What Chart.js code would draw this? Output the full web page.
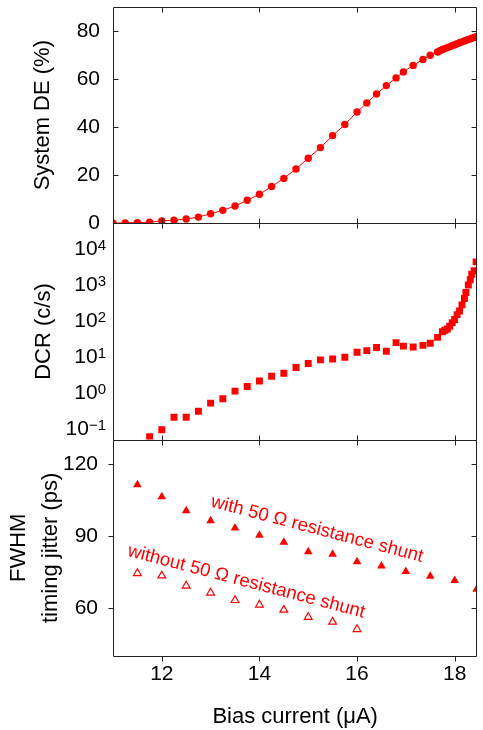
<!DOCTYPE html>
<html lang="en">
<head>
    <meta charset="utf-8"/>
    <script src="https://cdn.jsdelivr.net/npm/chart.js@4.4.0/dist/chart.umd.min.js"></script>
    <style>
        body { margin: 0; background: #fff; overflow: hidden; }
        canvas { display: block; }
    </style>
</head>
<body>
    <canvas id="chart" width="483" height="730"></canvas>
    <script>
        // system detection efficiency (%) vs bias current (uA)
        const biasDE = [11.0, 11.25, 11.5, 11.75, 12.0, 12.25, 12.5, 12.75, 13.0, 13.25, 13.5, 13.75, 14.0, 14.25,
            14.5, 14.75, 15.0, 15.25, 15.5, 15.75, 16.0, 16.2, 16.4, 16.6, 16.8, 16.95, 17.15, 17.35, 17.5, 17.65,
            17.7, 17.75, 17.8, 17.85, 17.9, 17.95, 18.0, 18.05, 18.1, 18.15, 18.2, 18.25, 18.3, 18.35, 18.4, 18.45];
        const systemDE = [0.1, 0.2, 0.3, 0.5, 1.0, 1.3, 1.8, 2.6, 4.0, 5.4, 7.2, 9.6, 12.1, 15.3,
            18.7, 22.6, 27.1, 31.5, 36.5, 41.1, 46.3, 50.1, 53.8, 57.3, 60.5, 63.0, 65.7, 68.2, 69.9, 71.3,
            71.8, 72.3, 72.7, 73.1, 73.5, 73.9, 74.3, 74.7, 75.1, 75.5, 75.9, 76.3, 76.6, 77.0, 77.3, 77.7];

        // dark count rate (c/s)
        const biasDCR = [11.75, 12.0, 12.25, 12.5, 12.75, 13.0, 13.25, 13.5, 13.75, 14.0, 14.25, 14.5, 14.75, 15.0,
            15.25, 15.5, 15.75, 16.0, 16.2, 16.4, 16.6, 16.8, 16.95, 17.15, 17.35, 17.5, 17.65, 17.75, 17.8, 17.85,
            17.9, 17.95, 18.0, 18.05, 18.1, 18.15, 18.2, 18.23, 18.28, 18.32, 18.35, 18.4, 18.44];
        const darkCounts = [0.06, 0.094, 0.21, 0.21, 0.31, 0.52, 0.69, 1.12, 1.5, 2.15, 2.9, 3.5, 5.1, 6.6,
            8.3, 8.8, 9.8, 13.5, 15, 18.3, 14.4, 25, 20, 19, 21, 24, 35, 50, 55, 60,
            72, 90, 110, 150, 190, 280, 420, 620, 1000, 1400, 2000, 2500, 4400];

        // FWHM timing jitter (ps)
        const biasShunt = [11.5, 12.0, 12.5, 13.0, 13.5, 14.0, 14.5, 15.0, 15.5, 16.0, 16.5, 17.0, 17.5, 18.0, 18.45];
        const jitterShunt = [111.2, 106.3, 100.4, 96.3, 93.3, 90.2, 87.3, 83.4, 82.3, 79.2, 77.4, 75.2, 73.2, 71.4, 67.8];
        const biasNoShunt = [11.5, 12.0, 12.5, 13.0, 13.5, 14.0, 14.5, 15.0, 15.5, 16.0];
        const jitterNoShunt = [74.4, 73.4, 69.2, 66.3, 63.2, 61.3, 59.2, 56.2, 54.2, 51.1];

        // tick labels
        const xTickLabels = [12, 14, 16, 18];
        const deTickLabels = [0, 20, 40, 60, 80];
        const dcrDecades = [-1, 0, 1, 2, 3, 4];
        const jitterTickLabels = [60, 90, 120];

        const RED = "#ff0000";
        const FONT = '"Liberation Sans", Arial, sans-serif';

        function pairs(xs, ys) {
            return xs.map((x, i) => ({x: x, y: ys[i]}));
        }

        function fixWidth(scale) {
            scale.width = 113;
            scale.paddingTop = 0;
            scale.paddingBottom = 0;
        }

        // clip every dataset to its own panel
        const panelClip = {
            id: "panelClip",
            beforeDatasetDraw(chart, args) {
                const ys = args.meta.yScale, a = chart.chartArea;
                chart.ctx.save();
                chart.ctx.beginPath();
                chart.ctx.rect(a.left, ys.top, a.right - a.left, ys.bottom - ys.top);
                chart.ctx.clip();
            },
            afterDatasetDraw(chart) {
                chart.ctx.restore();
            }
        };

        // box around each panel with tick marks
        const frame = {
            id: "frame",
            afterDraw(chart, args, opts) {
                const ctx = chart.ctx, xs = chart.scales.x;
                const L = Math.round(chart.chartArea.left) + 0.5, R = Math.round(chart.chartArea.right) - 0.5;
                ctx.save();
                ctx.strokeStyle = "#222";
                ctx.lineWidth = 1;
                opts.panels.forEach(p => {
                    const ys = chart.scales[p.id];
                    const T = Math.round(ys.top) + 0.5, B = Math.round(ys.bottom) + 0.5;
                    ctx.beginPath();
                    ctx.moveTo(L, T); ctx.lineTo(R, T); ctx.lineTo(R, B); ctx.lineTo(L, B); ctx.closePath();
                    ys.ticks.forEach(t => {
                        const y = Math.round(ys.getPixelForValue(t.value)) + 0.5;
                        const len = t.major ? 5 : 3;
                        if (p.left === "out") { ctx.moveTo(L - len, y); ctx.lineTo(L, y); }
                        else { ctx.moveTo(L, y); ctx.lineTo(L + len, y); }
                        ctx.moveTo(R, y); ctx.lineTo(R - len, y);
                    });
                    xs.ticks.forEach(t => {
                        const x = Math.round(xs.getPixelForValue(t.value)) + 0.5;
                        const len = xTickLabels.includes(t.value) ? 5 : 3;
                        ctx.moveTo(x, T); ctx.lineTo(x, T + len);
                        if (p.bottom === "out") { ctx.moveTo(x, B); ctx.lineTo(x, B + len); }
                        else { ctx.moveTo(x, B); ctx.lineTo(x, B - len); }
                    });
                    ctx.stroke();
                });
                ctx.restore();
            }
        };

        // 10^n labels of the log axis
        const powerLabels = {
            id: "powerLabels",
            afterDraw(chart) {
                const ctx = chart.ctx, ys = chart.scales.yDCR;
                const right = chart.chartArea.left - 7;
                ctx.save();
                ctx.fillStyle = "#000";
                dcrDecades.forEach(d => {
                    const y = ys.getPixelForValue(Math.pow(10, d));
                    const exp = String(d).replace("-", "\u2212");
                    ctx.font = "15px " + FONT;
                    const ew = ctx.measureText(exp).width;
                    ctx.textAlign = "left";
                    ctx.textBaseline = "alphabetic";
                    ctx.fillText(exp, right - ew, y + 1);
                    ctx.font = "21px " + FONT;
                    ctx.textAlign = "right";
                    ctx.textBaseline = "middle";
                    ctx.fillText("10", right - ew, y);
                });
                ctx.restore();
            }
        };

        // rotated labels in the jitter panel
        const notes = {
            id: "notes",
            afterDatasetsDraw(chart, args, opts) {
                const ctx = chart.ctx, xs = chart.scales.x, ys = chart.scales.yJit;
                ctx.save();
                ctx.fillStyle = RED;
                ctx.font = "18.6px " + FONT;
                ctx.textAlign = "center";
                ctx.textBaseline = "middle";
                opts.items.forEach(n => {
                    ctx.save();
                    ctx.translate(xs.getPixelForValue(n.x), ys.getPixelForValue(n.y));
                    ctx.rotate(n.angle * Math.PI / 180);
                    ctx.fillText(n.text, 0, 0);
                    ctx.restore();
                });
                ctx.restore();
            }
        };

        const tickFont = {family: FONT, size: 21};
        const titleFont = {family: FONT, size: 22};

        new Chart(document.getElementById("chart"), {
            type: "scatter",
            data: {
                datasets: [
                    {
                        label: "System DE",
                        data: pairs(biasDE, systemDE),
                        yAxisID: "yDE",
                        showLine: true,
                        borderColor: RED,
                        borderWidth: 1,
                        backgroundColor: RED,
                        pointRadius: 3.7,
                        pointBorderWidth: 0
                    },
                    {
                        label: "DCR",
                        data: pairs(biasDCR, darkCounts),
                        yAxisID: "yDCR",
                        pointStyle: "rect",
                        backgroundColor: RED,
                        pointRadius: 4.9,
                        pointBorderWidth: 0
                    },
                    {
                        label: "with 50 \u03a9 shunt",
                        data: pairs(biasShunt, jitterShunt),
                        yAxisID: "yJit",
                        pointStyle: "triangle",
                        backgroundColor: RED,
                        pointRadius: 5,
                        pointBorderWidth: 0
                    },
                    {
                        label: "without 50 \u03a9 shunt",
                        data: pairs(biasNoShunt, jitterNoShunt),
                        yAxisID: "yJit",
                        pointStyle: "triangle",
                        backgroundColor: "rgba(0,0,0,0)",
                        borderColor: RED,
                        pointRadius: 4.5,
                        pointBorderWidth: 1.2
                    }
                ]
            },
            options: {
                responsive: false,
                animation: false,
                layout: {padding: {top: 7, left: 0, right: 0, bottom: 0}},
                plugins: {
                    legend: {display: false},
                    tooltip: {enabled: false},
                    frame: {
                        panels: [
                            {id: "yDE", left: "in", bottom: "in"},
                            {id: "yDCR", left: "out", bottom: "in"},
                            {id: "yJit", left: "out", bottom: "out"}
                        ]
                    },
                    notes: {
                        items: [
                            {text: "with 50 \u03a9 resistance shunt", x: 15.18, y: 92.7, angle: 14.7},
                            {text: "without 50 \u03a9 resistance shunt", x: 13.73, y: 70.9, angle: 14.7}
                        ]
                    }
                },
                scales: {
                    x: {
                        type: "linear",
                        position: "bottom",
                        min: 11,
                        max: 18.464,
                        grid: {display: false},
                        border: {display: false},
                        afterBuildTicks: s => {
                            const t = [];
                            for (let v = 11; v <= 18; v++) t.push({value: v});
                            s.ticks = t;
                        },
                        afterFit: s => { s.height = 74; s.paddingLeft = 0; s.paddingRight = 0; },
                        ticks: {
                            autoSkip: false,
                            maxRotation: 0,
                            padding: -2,
                            color: "#000",
                            font: tickFont,
                            callback: v => xTickLabels.includes(v) ? String(v) : null
                        },
                        title: {display: true, text: "Bias current (\u03bcA)", color: "#000", font: titleFont, padding: 0}
                    },
                    yJit: {
                        type: "linear",
                        position: "left",
                        stack: "panels",
                        stackWeight: 1,
                        weight: 1,
                        min: 40,
                        max: 130,
                        grid: {display: false},
                        border: {display: false},
                        afterBuildTicks: s => {
                            const t = [];
                            for (let v = 45; v <= 130; v += 15) t.push({value: v, major: jitterTickLabels.includes(v)});
                            s.ticks = t;
                        },
                        afterFit: fixWidth,
                        ticks: {
                            autoSkip: false,
                            padding: 7,
                            color: "#000",
                            font: tickFont,
                            callback: v => jitterTickLabels.includes(v) ? String(v) : null
                        },
                        title: {
                            display: true,
                            text: ["FWHM", "timing jitter (ps)"],
                            color: "#000",
                            font: {family: FONT, size: 22, lineHeight: 1.45},
                            padding: {top: 3, bottom: 0}
                        }
                    },
                    yDCR: {
                        type: "logarithmic",
                        position: "left",
                        stack: "panels",
                        stackWeight: 1,
                        weight: 2,
                        min: 0.05,
                        max: 52000,
                        grid: {display: false},
                        border: {display: false},
                        afterBuildTicks: s => {
                            const t = [];
                            for (let d = -2; d <= 4; d++) {
                                for (let k = 1; k <= 9; k++) {
                                    const v = k * Math.pow(10, d);
                                    if (v >= s.min && v <= s.max) t.push({value: v, major: k === 1});
                                }
                            }
                            s.ticks = t;
                        },
                        afterFit: fixWidth,
                        ticks: {autoSkip: false, font: tickFont, callback: () => null},
                        title: {display: true, text: "DCR (c/s)", color: "#000", font: titleFont, padding: {top: 31, bottom: 0}}
                    },
                    yDE: {
                        type: "linear",
                        position: "left",
                        stack: "panels",
                        stackWeight: 1,
                        weight: 3,
                        min: 0,
                        max: 90,
                        grid: {display: false},
                        border: {display: false},
                        afterBuildTicks: s => {
                            const t = [];
                            for (let v = 0; v <= 90; v += 10) t.push({value: v, major: deTickLabels.includes(v)});
                            s.ticks = t;
                        },
                        afterFit: fixWidth,
                        ticks: {
                            autoSkip: false,
                            padding: 5,
                            color: "#000",
                            font: tickFont,
                            callback: v => deTickLabels.includes(v) ? String(v) : null
                        },
                        title: {display: true, text: "System DE (%)", color: "#000", font: titleFont, padding: {top: 30, bottom: 0}}
                    }
                }
            },
            plugins: [panelClip, frame, powerLabels, notes]
        });
    </script>
</body>
</html>
